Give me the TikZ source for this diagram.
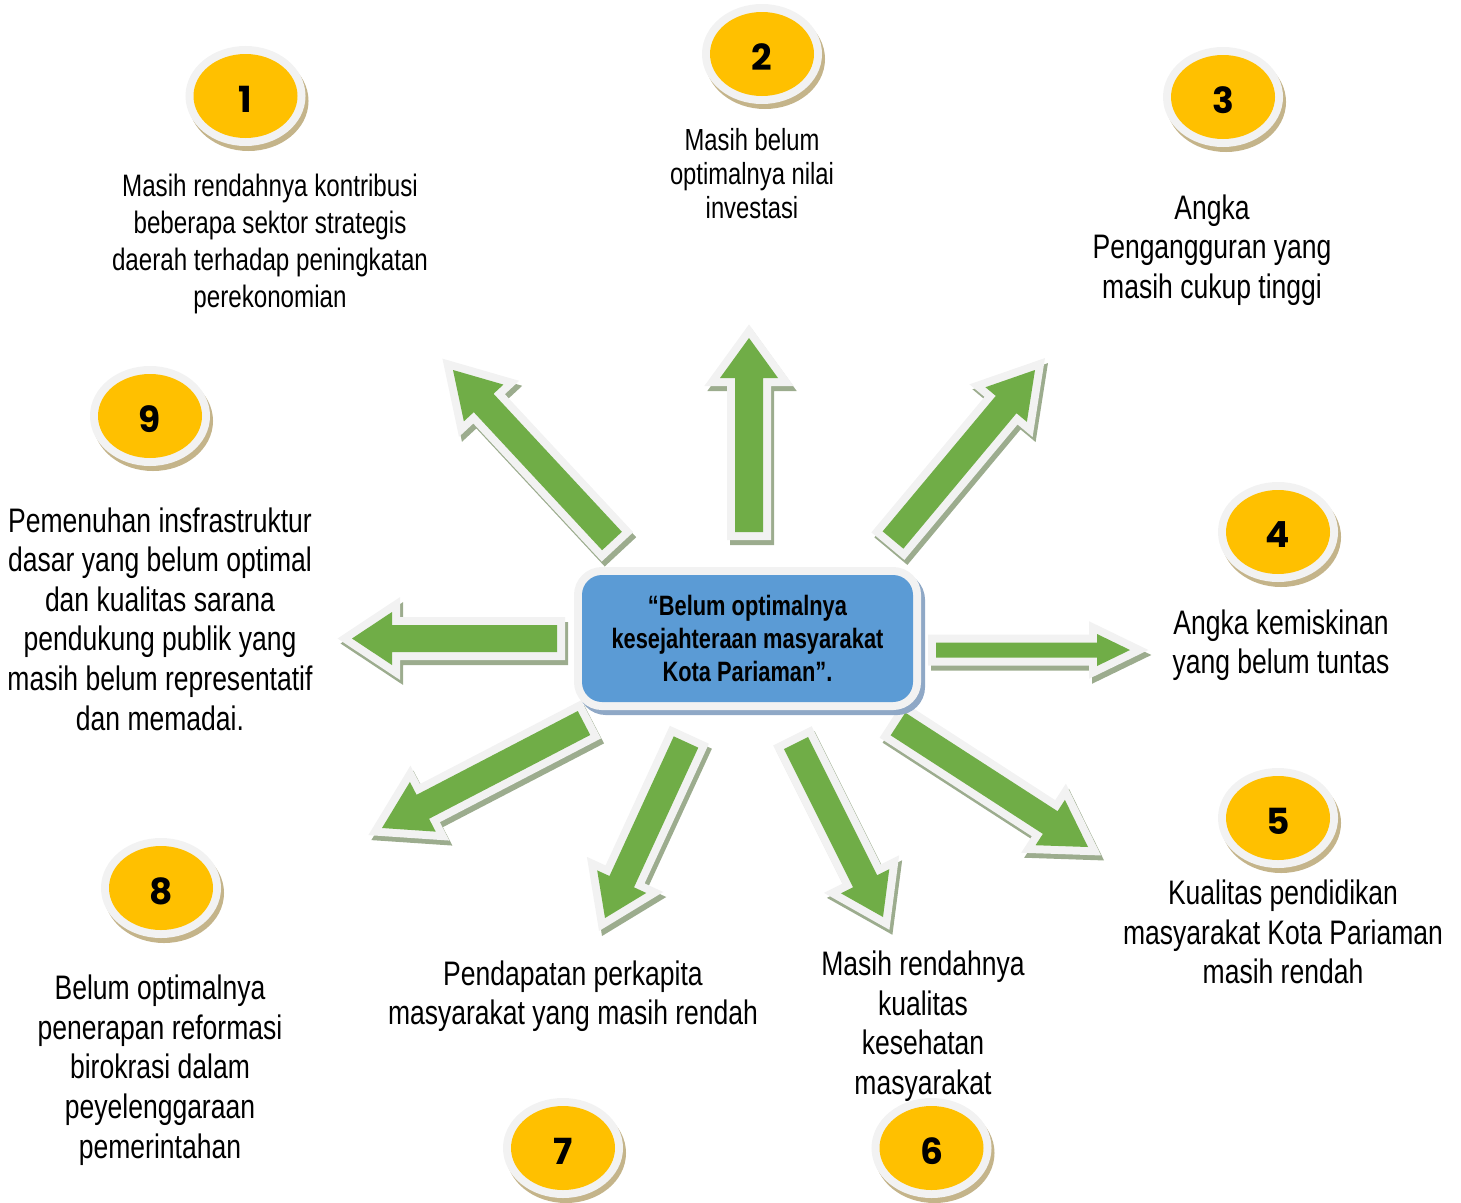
\documentclass[tikz,border=0pt]{standalone}
\usepackage{fontspec}
\setmainfont{Liberation Sans}[FakeStretch=0.78]
\newfontfamily\numfont{Poppins}
\usetikzlibrary{shapes.geometric, calc}

\definecolor{boxblue}{HTML}{5B9BD5}
\definecolor{boxshadow}{HTML}{8FA8C6}
\definecolor{rimgray}{HTML}{F2F2F2}
\definecolor{arrowgreen}{HTML}{70AD47}
\definecolor{arrowshadow}{HTML}{9CAC8E}
\definecolor{dotyellow}{HTML}{FFC000}
\definecolor{dotshadow}{HTML}{C4B48A}

\tikzset{
  % Centre problem box
  problembox/.style={rounded corners=20pt, fill=boxblue, minimum width=331pt, minimum height=127pt,
    align=center, inner sep=0pt, font=\fontsize{28}{33}\selectfont\bfseries,
    preaction={fill=boxshadow, draw=boxshadow, line width=16pt, transform canvas={shift={(4pt,-5pt)}}},
    preaction={draw=rimgray, line width=16pt}},
  % Numbered badges
  numbadge/.style={ellipse, fill=dotyellow, minimum width=104pt, minimum height=84pt, inner sep=0pt,
    font=\numfont\bfseries\fontsize{36}{36}\selectfont,
    preaction={fill=dotshadow, draw=dotshadow, line width=16pt, transform canvas={shift={(3pt,-5pt)}}},
    preaction={draw=rimgray, line width=16pt}},
  % Issue captions
  issuetext/.style={align=center, inner sep=0pt, font=\fontsize{34}{39.6}\selectfont},
  % Block arrow pointers
  blockpointer/.style={fill=arrowgreen, line join=miter,
    preaction={fill=arrowshadow, draw=arrowshadow, line width=16pt, line join=miter, transform canvas={shift={(3pt,-5pt)}}},
    preaction={draw=rimgray, line width=16pt, line join=miter}},
}

% tail, tip, half shaft, half head, head length
\newcommand{\blockarrow}[5]{%
  \coordinate (hb) at ($(#2)!#5!(#1)$);
  \fill[blockpointer] ($(#1)!#3!90:(#2)$) -- ($(hb)!#3!-90:(#1)$) -- ($(hb)!#4!-90:(#1)$) -- (#2)
    -- ($(hb)!#4!90:(#1)$) -- ($(hb)!#3!90:(#1)$) -- ($(#1)!#3!-90:(#2)$) -- cycle;
}
% digit set a little low in its badge
\newcommand{\badgedigit}[1]{\raisebox{-3pt}[\height][\depth]{#1}}

\begin{document}
\begin{tikzpicture}[x=1pt, y=-1pt]
\useasboundingbox (0,0) rectangle (1461,1202);

% arrow ends
\coordinate (a1) at (612,541);  \coordinate (e1) at (453,370);
\coordinate (a2) at (749,532);  \coordinate (e2) at (749,338);
\coordinate (a3) at (893,540);  \coordinate (e3) at (1035,370);
\coordinate (a4) at (936,650);  \coordinate (e4) at (1130,650);
\coordinate (a5) at (898,724);  \coordinate (e5) at (1088,847);
\coordinate (a6) at (796,743);  \coordinate (e6) at (883,917);
\coordinate (a7) at (686,742);  \coordinate (e7) at (605,918);
\coordinate (a8) at (584,723);  \coordinate (e8) at (382,828);
\coordinate (a9) at (557,638.5); \coordinate (e9) at (352,638.5);

\blockarrow{a1}{e1}{13.5pt}{27pt}{45pt}
\blockarrow{a2}{e2}{14pt}{29pt}{40pt}
\blockarrow{a3}{e3}{13.5pt}{27pt}{45pt}
\blockarrow{a4}{e4}{7.5pt}{16pt}{33pt}
\blockarrow{a5}{e5}{13.5pt}{27pt}{45pt}
\blockarrow{a6}{e6}{13.5pt}{27pt}{40pt}
\blockarrow{a7}{e7}{13.5pt}{27pt}{40pt}
\blockarrow{a8}{e8}{13.5pt}{28pt}{46pt}
\blockarrow{a9}{e9}{13.5pt}{26.5pt}{40pt}

\node[problembox] (pusat) at (747.5,638.5) {“Belum optimalnya\\kesejahteraan masyarakat\\Kota Pariaman”.};

% badges
\node[numbadge] (n1) at (245.5,96) {\badgedigit{1}};
\node[numbadge] (n2) at (762,54) {\badgedigit{2}};
\node[numbadge] (n3) at (1223,97) {\badgedigit{3}};
\node[numbadge] (n4) at (1278,532) {\badgedigit{4}};
\node[numbadge] (n5) at (1278,818) {\badgedigit{5}};
\node[numbadge] (n6) at (931.5,1148) {\badgedigit{6}};
\node[numbadge] (n7) at (563,1148) {\badgedigit{7}};
\node[numbadge] (n8) at (161,888) {\badgedigit{8}};
\node[numbadge] (n9) at (150,416) {\badgedigit{9}};

% captions
\node[issuetext, font=\fontsize{31}{37}\selectfont] (t1) at (270,244) {Masih rendahnya kontribusi\\beberapa sektor strategis\\daerah terhadap peningkatan\\perekonomian};
\node[issuetext, font=\fontsize{30.5}{34}\selectfont] (t2) at (752,174) {Masih belum\\optimalnya nilai\\investasi};
\node[issuetext] (t3) at (1212,250) {Angka\\Pengangguran yang\\masih cukup tinggi};
\node[issuetext] (t4) at (1281,645) {Angka kemiskinan\\yang belum tuntas};
\node[issuetext] (t5) at (1283,932) {Kualitas pendidikan\\masyarakat Kota Pariaman\\masih rendah};
\node[issuetext] (t6) at (923,1026) {Masih rendahnya\\kualitas\\kesehatan\\masyarakat};
\node[issuetext] (t7) at (573,996) {Pendapatan perkapita\\masyarakat yang masih rendah};
\node[issuetext] (t8) at (160,1070) {Belum optimalnya\\penerapan reformasi\\birokrasi dalam\\peyelenggaraan\\pemerintahan};
\node[issuetext] (t9) at (160,619) {Pemenuhan insfrastruktur\\dasar yang belum optimal\\dan kualitas sarana\\pendukung publik yang\\masih belum representatif\\dan memadai.};

\end{tikzpicture}
\end{document}
